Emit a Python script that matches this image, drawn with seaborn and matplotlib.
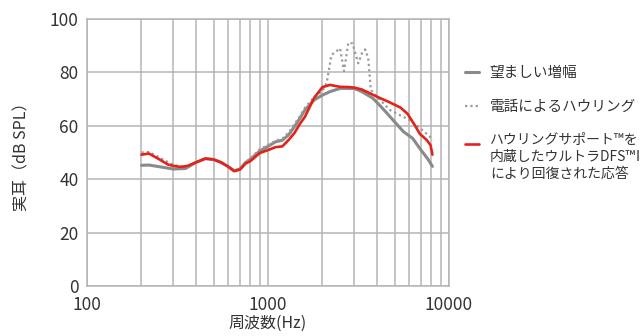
import numpy as np
import pandas as pd
import matplotlib
matplotlib.use("Agg")
import matplotlib.pyplot as plt
import seaborn as sns
from matplotlib.legend_handler import HandlerLine2D
from matplotlib.ticker import LogLocator, NullFormatter, FixedLocator

# desired gain (gray)
gray_hz = [200, 220, 250, 300, 350, 400, 450, 500, 550, 600, 650, 700, 750, 800, 900,
           1000, 1100, 1200, 1300, 1400, 1500, 1600, 1800, 2000, 2200, 2500, 3000, 3300,
           3800, 4300, 4900, 5600, 6300, 7000, 7600, 8100]
gray_db = [45.2, 45.3, 44.7, 43.8, 44.0, 46.3, 47.7, 47.4, 46.3, 44.8, 43.2, 43.8, 46.2,
           47.5, 50.5, 52.3, 54.0, 54.6, 56.6, 59.7, 62.8, 65.9, 69.7, 71.5, 72.8, 74.0,
           74.0, 72.8, 70.3, 66.5, 62.2, 57.8, 55.3, 50.9, 47.8, 44.8]

# feedback on the phone (dotted)
dot_hz = [200, 220, 250, 300, 350, 400, 450, 500, 550, 600, 650, 700, 750, 800, 900,
          1000, 1100, 1200, 1300, 1400, 1500, 1600, 1800, 2000, 2110, 2240, 2500, 2630,
          2780, 2930, 3150, 3300, 3440, 3580, 3700, 4160, 4720, 5350, 6050, 6920, 7850, 8100]
dot_db = [50.0, 50.2, 48.2, 45.3, 44.5, 46.3, 47.7, 47.4, 46.3, 44.8, 43.2, 43.8, 46.4,
          47.8, 51.2, 52.8, 54.4, 55.2, 57.5, 60.6, 63.6, 66.8, 70.8, 73.0, 76.0, 86.5,
          89.0, 80.5, 91.1, 90.9, 83.4, 87.1, 88.6, 85.3, 73.4, 69.7, 65.9, 64.0, 62.2,
          59.1, 55.9, 54.5]

# restored response (red)
red_hz = [200, 220, 250, 280, 300, 330, 360, 400, 450, 500, 550, 600, 650, 700, 750, 800,
          900, 1000, 1100, 1200, 1300, 1400, 1500, 1600, 1800, 2000, 2200, 2500, 2800,
          3000, 3300, 3700, 4000, 4700, 5400, 5900, 6500, 6900, 7500, 7900, 8100]
red_db = [49.2, 49.6, 47.5, 45.5, 45.0, 44.6, 45.0, 46.3, 47.7, 47.4, 46.3, 44.8, 43.0,
          43.6, 45.8, 46.8, 49.8, 50.9, 52.0, 52.3, 54.7, 57.3, 60.7, 63.4, 70.5, 74.5,
          75.3, 74.6, 74.5, 74.3, 73.6, 72.0, 70.9, 68.8, 66.8, 64.5, 60.0, 57.0, 54.8,
          52.8, 49.2]

labels = ["望ましい増幅", "電話によるハウリング",
          "ハウリングサポート™を\n内蔵したウルトラDFS™Ⅲ\nにより回復された応答"]

sns.set_theme(style="white")
plt.rcParams['font.family'] = ['Noto Sans CJK JP', 'DejaVu Sans']
text_c = "#333333"
grid_c = "#b5b5b5"

fig = plt.figure(figsize=(6.4, 3.36), dpi=100)
ax = fig.add_axes([87/640, 1-286/336, (449-87)/640, (286-19)/336])

sns.lineplot(x=gray_hz, y=gray_db, ax=ax, color="#8a8a8a", lw=2.2, label=labels[0])
sns.lineplot(x=dot_hz, y=dot_db, ax=ax, color="#9a9a9a", lw=1.6,
             linestyle=(0, (1, 1.4)), label=labels[1])
sns.lineplot(x=red_hz, y=red_db, ax=ax, color="#e2231a", lw=1.9, label=labels[2])

ax.set_xscale("log")
ax.set_xlim(100, 10000)
ax.set_ylim(0, 100)
ax.set_yticks([0, 20, 40, 60, 80, 100])
ax.xaxis.set_major_locator(FixedLocator([100, 1000, 10000]))
ax.xaxis.set_major_formatter(plt.FuncFormatter(lambda v, p: f"{int(v)}"))
ax.xaxis.set_minor_locator(LogLocator(base=10, subs=np.arange(2, 10)))
ax.xaxis.set_minor_formatter(NullFormatter())
ax.grid(True, which="both", axis="x", color=grid_c, lw=1.1)
ax.grid(True, which="major", axis="y", color=grid_c, lw=1.1)
ax.set_axisbelow(True)
for s in ax.spines.values():
    s.set_color(grid_c)
    s.set_linewidth(1.1)
ax.tick_params(axis="both", which="both", direction="out", color=grid_c, width=1.1,
               labelcolor=text_c, labelsize=12.5)
ax.tick_params(axis="both", which="major", length=4, pad=2)
ax.tick_params(axis="x", which="minor", length=4)
ax.tick_params(axis="x", which="major", pad=3)

ax.set_xlabel("周波数(Hz)", fontsize=11.5, color=text_c, labelpad=1)
ax.set_ylabel("実耳（dB SPL）", fontsize=11.5, color=text_c, labelpad=14)


class TopLine(HandlerLine2D):
    # put the handle beside the first line of a multi-line label
    def create_artists(self, legend, orig_handle, xdescent, ydescent, width, height,
                       fontsize, trans):
        arts = super().create_artists(legend, orig_handle, xdescent, ydescent, width,
                                      height, fontsize, trans)
        nlines = orig_handle.get_label().count("\n")
        for a in arts:
            a.set_ydata(np.asarray(a.get_ydata()) + nlines * fontsize * 0.47)
        return arts


handles, labs = ax.get_legend_handles_labels()
ax.get_legend().remove()
leg = fig.legend(handles, labs, loc="upper left", bbox_to_anchor=(465/640, 1-66/336),
                 frameon=False, fontsize=10.5, handlelength=0.95, handletextpad=0.75,
                 labelspacing=1.35, borderpad=0, borderaxespad=0,
                 handler_map={h: TopLine() for h in handles})
for t in leg.get_texts():
    t.set_color(text_c)
    t.set_linespacing(1.25)
leg.get_texts()[2].set_fontsize(10)

fig.savefig("out.png", dpi=100)
